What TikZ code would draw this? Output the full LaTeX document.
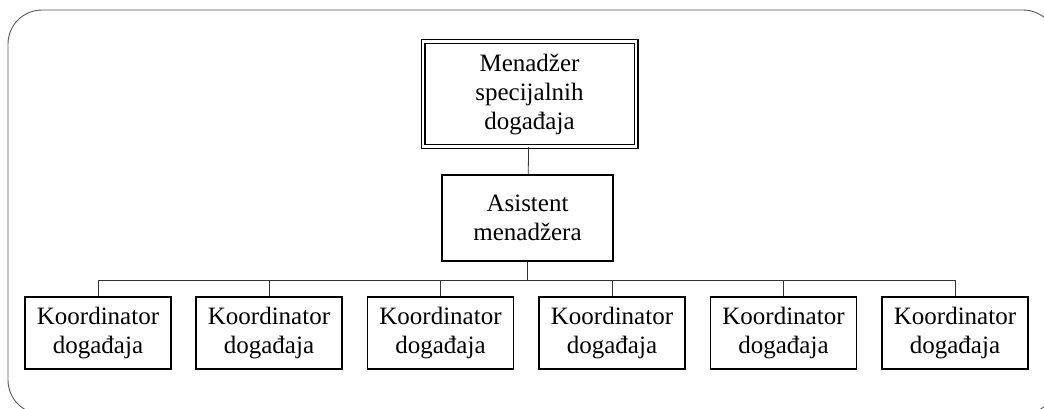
\documentclass[tikz,border=0pt]{standalone}
\usepackage{fontspec}
\setmainfont{Liberation Serif}
\usetikzlibrary{positioning}

\begin{document}
\begin{tikzpicture}[x=1pt,y=-1pt,
    box/.style={draw, line width=1.3pt, align=center, inner sep=0pt,
      font=\fontsize{25}{29}\selectfont},
    headbox/.style={box, double, double distance=2.4pt, line width=1.3pt,
      minimum width=213pt, minimum height=105pt},
    asstbox/.style={box, minimum width=171pt, minimum height=86pt},
    koordbox/.style={box, minimum width=146pt, minimum height=72pt},
    link/.style={draw=black!80, line width=0.8pt}]
      \useasboundingbox (0,0) rectangle (1044,408);
      \draw[black!65, line width=0.9pt, rounded corners=34pt] (8,10) rectangle (1057,414);
      \node[headbox] at (529.5,94) (mgr) {Menadžer\\specijalnih\\događaja};
      \node[asstbox] at (527.5,218) (asst) {Asistent\\menadžera};
      \coordinate (bus) at (527.5,280);
      \node[koordbox] at (98,333) (k1) {Koordinator\\događaja};
      \node[koordbox] at (269,333) (k2) {Koordinator\\događaja};
      \node[koordbox] at (440.5,333) (k3) {Koordinator\\događaja};
      \node[koordbox] at (612,333) (k4) {Koordinator\\događaja};
      \node[koordbox] at (783.5,333) (k5) {Koordinator\\događaja};
      \node[koordbox] at (955,333) (k6) {Koordinator\\događaja};
      \draw[link] (mgr) -- (asst);
      \draw[link] (asst) -- (bus);
      \draw[link] (bus) -| (k1.north);
      \draw[link] (bus) -| (k2.north);
      \draw[link] (bus) -| (k3.north);
      \draw[link] (bus) -| (k4.north);
      \draw[link] (bus) -| (k5.north);
      \draw[link] (bus) -| (k6.north);
\end{tikzpicture}
\end{document}
